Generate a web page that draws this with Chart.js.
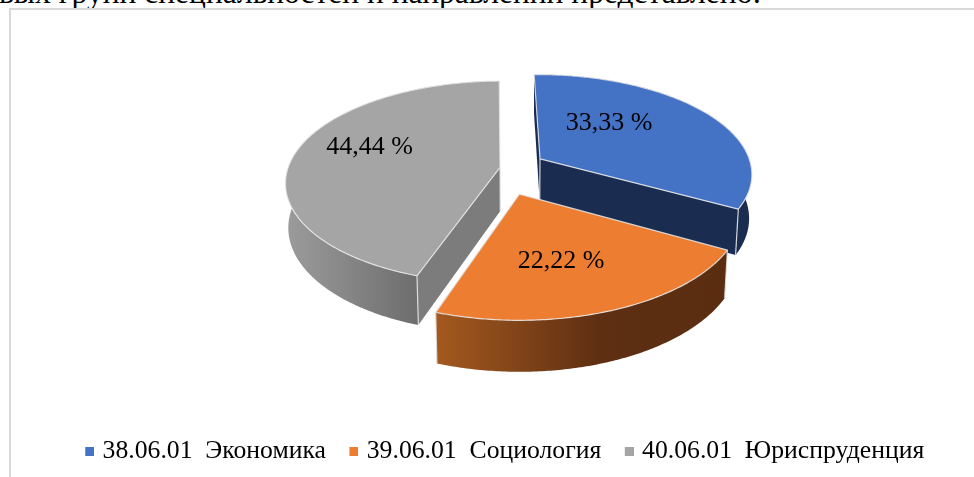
<!DOCTYPE html>
<html><head><meta charset="utf-8">
<style>
html,body{margin:0;padding:0;background:#fff;width:974px;height:477px;overflow:hidden}
#frame{position:absolute;left:9px;top:8px;right:-5px;bottom:-5px;border-left:2px solid #d9d9d9;border-top:2px solid #d9d9d9}
#cut{position:absolute;left:-1px;top:-23px;font:31.5px/31px "Liberation Serif",serif;color:#000;white-space:pre}
canvas{position:absolute;left:0;top:0}
</style>
<script src="https://cdn.jsdelivr.net/npm/chart.js@4"></script>
</head><body>
<div id="cut">вых групп специальностей и направлений представлено:</div>
<div id="frame"></div>
<canvas id="c" width="974" height="477"></canvas>
<script>
const categories = ['38.06.01  Экономика', '39.06.01  Социология', '40.06.01  Юриспруденция'];
const shares = [33.33, 22.22, 44.44];
const topColors = ['#4472c4', '#ed7d31', '#a5a5a5'];
const sideColors = ['#1a2c50', '#5e2f12', '#7c7c7c'];
const rimStops = [
  [[700, '#1a2c50'], [760, '#1a2c50']],
  [[436, '#a4591f'], [600, '#5e2f12'], [730, '#5a2d11']],
  [[285, '#9c9c9c'], [416, '#6e6e6e']]
];
const labelSpots = [[0.455, -0.51], [0.174, 0.80], [-0.727, -0.25]];

// perspective view of the pie: world units are pie radii
const VIEW = {cx: 519, cy: 171, ax: 213, by: 100, k: 0.147, depth: 44, shrink: 0.012, stretchY: 2.5, shear: 0.035};
function project(X, Y, z) {
  const w = 1 - VIEW.k * Y + VIEW.shrink * z;
  return [VIEW.cx + VIEW.ax * X / w, VIEW.cy + VIEW.by * Y / w + VIEW.depth * z / (1 - VIEW.k * Y)];
}
Chart.ArcElement.prototype.draw = function (ctx) {
  const {startAngle, endAngle, outerRadius: R} = this.getProps(['startAngle', 'endAngle', 'outerRadius'], true);
  const i = this.$context ? this.$context.dataIndex : 0;
  const mid = (startAngle + endAngle) / 2;
  const e = this.options.offset / R;
  const ox = e * Math.cos(mid) - VIEW.shear * Math.sin(mid);
  const oy = e * VIEW.stretchY * Math.sin(mid);
  const pt = (a, t, z) => project(ox + t * Math.cos(a), oy + t * Math.sin(a), z);
  const steps = Math.ceil((endAngle - startAngle) * 90);
  const angles = [];
  for (let s = 0; s <= steps; s++) angles.push(startAngle + (endAngle - startAngle) * s / steps);
  const poly = (pts) => { ctx.beginPath(); pts.forEach((p, n) => n ? ctx.lineTo(p[0], p[1]) : ctx.moveTo(p[0], p[1])); ctx.closePath(); };
  const line = (a, b) => { ctx.beginPath(); ctx.moveTo(a[0], a[1]); ctx.lineTo(b[0], b[1]); ctx.stroke(); };

  ctx.save();
  ctx.lineJoin = 'round';
  // cut walls
  ctx.fillStyle = sideColors[i];
  for (const a of [startAngle, endAngle]) {
    poly([pt(a, 0, 0), pt(a, 1, 0), pt(a, 1, 1), pt(a, 0, 1)]);
    ctx.fill();
  }
  // rim
  const g = ctx.createLinearGradient(rimStops[i][0][0], 0, rimStops[i][rimStops[i].length - 1][0], 0);
  const x0 = rimStops[i][0][0], x1 = rimStops[i][rimStops[i].length - 1][0];
  rimStops[i].forEach(([x, c]) => g.addColorStop((x - x0) / (x1 - x0), c));
  ctx.fillStyle = g;
  poly(angles.map(a => pt(a, 1, 0)).concat(angles.slice().reverse().map(a => pt(a, 1, 1))));
  ctx.fill();
  // edges of the walls
  ctx.strokeStyle = 'rgba(235,235,235,0.85)';
  ctx.lineWidth = 1.2;
  for (const a of [startAngle, endAngle]) {
    const s = Math.sin(a);
    if (s > 0.2) line(pt(a, 1, 0), pt(a, 1, 1));
  }
  line(pt(i === 0 ? startAngle : endAngle, 0, 0), pt(i === 0 ? startAngle : endAngle, 0, 1));
  // top
  ctx.fillStyle = this.options.backgroundColor;
  poly([pt(startAngle, 0, 0)].concat(angles.map(a => pt(a, 1, 0))));
  ctx.fill();
  ctx.stroke();
  ctx.restore();
};

const percentLabels = {
  id: 'percentLabels',
  afterDatasetsDraw(chart) {
    const ctx = chart.ctx;
    ctx.save();
    ctx.font = '26px "Liberation Serif"';
    ctx.fillStyle = '#000';
    ctx.textAlign = 'center';
    ctx.textBaseline = 'middle';
    shares.forEach((v, i) => {
      const [x, y] = project(labelSpots[i][0], labelSpots[i][1], 0);
      ctx.fillText(v.toFixed(2).replace('.', ',') + ' %', x, y);
    });
    ctx.restore();
  }
};

function swatch(color) {
  const c = document.createElement('canvas');
  c.width = 13; c.height = 9;
  const x = c.getContext('2d');
  x.fillStyle = color;
  x.fillRect(4, 0, 9, 9);
  return c;
}

new Chart(document.getElementById('c'), {
  type: 'pie',
  data: {
    labels: categories,
    datasets: [{data: shares, backgroundColor: topColors, borderWidth: 0, offset: 19}]
  },
  options: {
    responsive: false,
    animation: false,
    rotation: -1,
    layout: {padding: {bottom: 3, left: 36}},
    plugins: {
      tooltip: {enabled: false},
      legend: {
        position: 'bottom',
        labels: {
          usePointStyle: true,
          pointStyleWidth: 4,
          boxHeight: 9,
          padding: 24,
          color: '#000',
          font: {family: '"Liberation Serif"', size: 25.7},
          generateLabels(chart) {
            return Chart.overrides.pie.plugins.legend.labels.generateLabels(chart)
              .map((l, i) => Object.assign(l, {pointStyle: swatch(topColors[i])}));
          }
        }
      }
    }
  },
  plugins: [percentLabels]
});
</script>
</body></html>
